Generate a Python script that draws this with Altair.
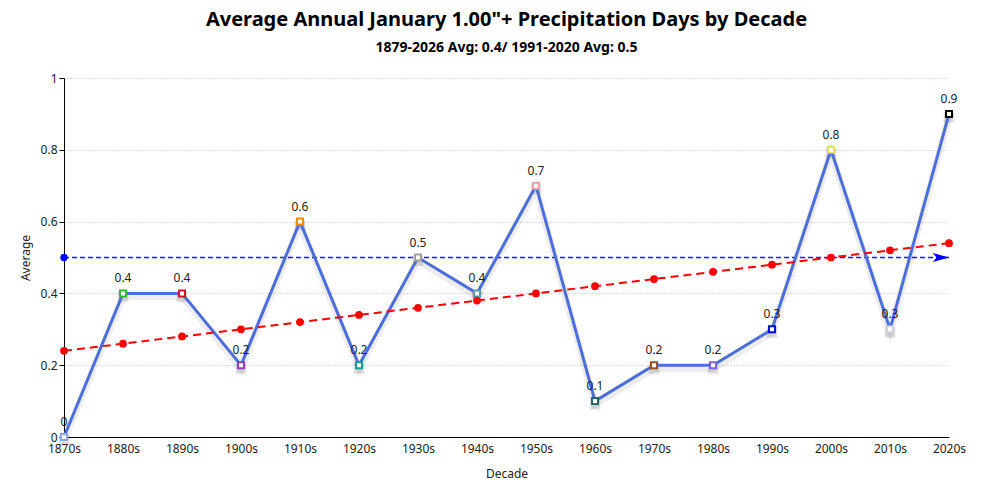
import altair as alt
import pandas as pd

decades = ["1870s", "1880s", "1890s", "1900s", "1910s", "1920s", "1930s", "1940s",
           "1950s", "1960s", "1970s", "1980s", "1990s", "2000s", "2010s", "2020s"]
averages = [0, 0.4, 0.4, 0.2, 0.6, 0.2, 0.5, 0.4, 0.7, 0.1, 0.2, 0.2, 0.3, 0.8, 0.3, 0.9]
trend = [0.24, 0.26, 0.28, 0.30, 0.32, 0.34, 0.36, 0.38, 0.40, 0.42, 0.44, 0.46,
         0.48, 0.50, 0.52, 0.54]
point_colors = ["#8fa8e8", "#32b832", "#d01438", "#9b3cc0", "#f08c00", "#17a090",
                "#a0a0a0", "#5a9aa8", "#f0a0a8", "#2a6868", "#9a5020", "#7b60e0",
                "#0010e0", "#e6e060", "#d0d0e0", "#000000"]
normal_value = 0.5

df = pd.DataFrame({"Decade": decades, "Average": averages, "Trend": trend})
ref = pd.DataFrame({"Decade": [decades[0], decades[-1]], "Average": [normal_value, normal_value]})

FONT = "Noto Sans"
xenc = alt.X("Decade:N", sort=decades, scale=alt.Scale(padding=0),
             axis=alt.Axis(title="Decade", labelAngle=0, ticks=False, labelPadding=6,
                           titlePadding=14, domainColor="#000", labelColor="#222",
                           labelFontSize=12, titleFontSize=12, titleFontWeight="normal",
                           titleColor="#222", labelFont=FONT, titleFont=FONT))
yscale = alt.Scale(domain=[0, 1], nice=False)
yaxis = alt.Axis(title="Average", values=[0, 0.2, 0.4, 0.6, 0.8, 1], format="~g",
                 grid=True, gridDash=[1, 2], gridColor="#bbbbbb", domainColor="#000",
                 tickColor="#000", tickSize=5, labelColor="#222", labelFontSize=12,
                 titleFontSize=12, titleFontWeight="normal", titleColor="#222",
                 titlePadding=8, labelPadding=2, labelFont=FONT, titleFont=FONT)

X = alt.X("Decade:N", sort=decades)
base = alt.Chart(df)

ref_line = alt.Chart(ref).mark_line(stroke="#1a1aff", color="#1a1aff", strokeDash=[5, 3],
                                    strokeWidth=1.5, opacity=1).encode(
    x=xenc, y=alt.Y("Average:Q", scale=yscale, axis=yaxis))
ref_start = alt.Chart(ref.iloc[[0]]).mark_point(shape="circle", filled=True, color="#0000ff",
                                                size=55, opacity=1).encode(x=X, y="Average:Q")
ref_end = alt.Chart(ref.iloc[[1]]).mark_point(
    shape="M-1,-0.55 L1,0 L-1,0.55 L-0.55,0 Z", filled=True, color="#0000ff",
    size=260, opacity=1).encode(x=X, y="Average:Q", xOffset=alt.value(-8))

shadow_line = base.transform_calculate(Shadow="datum.Average - 0.009").mark_line(
    color="#000", strokeWidth=7, opacity=0.07).encode(x=X, y="Shadow:Q")
shadow_points = base.transform_calculate(Shadow="datum.Average - 0.009").mark_point(
    shape="square", filled=True, color="#000", size=110, opacity=0.13).encode(x=X, y="Shadow:Q")
main_line = base.mark_line(color="#4b6edc", strokeWidth=3).encode(x=X, y="Average:Q")
main_points = base.mark_point(shape="square", filled=True, fill="white", strokeWidth=2,
                              size=36, opacity=1).encode(
    x=X, y="Average:Q",
    stroke=alt.Stroke("Decade:N", scale=alt.Scale(domain=decades, range=point_colors), legend=None))
labels = base.mark_text(dy=-15, fontSize=12, color="#222", font=FONT).encode(
    x=X, y="Average:Q", text=alt.Text("Average:Q", format=".1~f"))

trend_line = base.mark_line(color="#ff0000", strokeDash=[8, 5], strokeWidth=2).encode(x=X, y="Trend:Q")
trend_points = base.mark_point(shape="circle", filled=True, color="#ff0000", size=60,
                               opacity=1).encode(x=X, y="Trend:Q")

chart = alt.layer(ref_line, ref_start, ref_end, shadow_line, shadow_points, main_line,
                  main_points, labels, trend_line, trend_points).properties(
    width=885, height=359,
    title=alt.TitleParams(text="Average Annual January 1.00\"+ Precipitation Days by Decade",
                          subtitle="1879-2026 Avg: 0.4/ 1991-2020 Avg: 0.5",
                          fontSize=20, subtitleFontSize=14, fontWeight="bold",
                          subtitleFontWeight="bold", font=FONT, subtitleFont=FONT,
                          color="#000", subtitleColor="#000", anchor="middle",
                          offset=17, subtitlePadding=11),
    autosize=alt.AutoSizeParams(type="none"),
    padding={"left": 56, "top": 70, "right": 35, "bottom": 47},
).configure_view(stroke=None)

chart.save("out.html", embed_options={"renderer": "svg", "actions": False})
